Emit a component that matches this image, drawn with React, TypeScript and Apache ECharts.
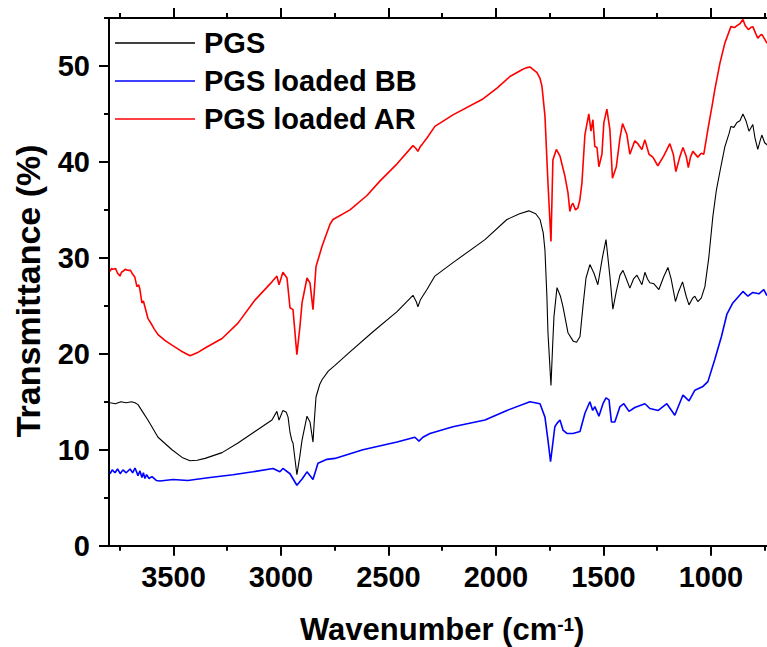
import React, { useEffect, useRef } from "react";
import * as echarts from "echarts";

const seriesNames = ["PGS", "PGS loaded BB", "PGS loaded AR"];
const xTickValues = [1000, 1500, 2000, 2500, 3000, 3500];
const xMinorTickValues = [750, 1250, 1750, 2250, 2750, 3250, 3750];
const yTickValues = [0, 10, 20, 30, 40, 50];
const yMinorTickValues = [5, 15, 25, 35, 45, 55];
const X_MIN = 700;
const X_MAX = 3800;
const Y_MIN = 0;
const Y_MAX = 55;

const pgsData = [
  [3795, 14.9], [3770, 14.8], [3745, 15.0], [3720, 14.9], [3695, 15.0], [3679, 14.9], [3665, 14.7], [3645, 14.0],
  [3619, 13.1], [3572, 11.3], [3507, 10.0], [3460, 9.2], [3423, 8.85], [3390, 8.9], [3353, 9.1], [3274, 9.7],
  [3200, 10.7], [3121, 11.9], [3042, 13.1], [3019, 14.0], [3009, 13.1], [2991, 14.1], [2975, 13.9], [2967, 13.4],
  [2958, 11.8], [2950, 11.0], [2944, 10.7], [2926, 7.4], [2913, 9.2], [2902, 11.0], [2879, 13.5], [2865, 12.9],
  [2851, 10.8], [2845, 13.0], [2837, 15.5], [2820, 16.8], [2809, 17.3], [2780, 18.2], [2749, 18.8], [2679, 20.2],
  [2572, 22.3], [2460, 24.4], [2386, 26.1], [2370, 25.4], [2363, 24.9], [2352, 25.6], [2344, 25.9], [2321, 26.7],
  [2284, 28.1], [2200, 29.5], [2051, 31.9], [1949, 34.0], [1890, 34.6], [1847, 34.9], [1815, 34.6], [1795, 34.0],
  [1780, 32.6], [1772, 30.8], [1763, 26.0], [1758, 22.2], [1744, 16.7], [1736, 21.0], [1730, 23.9], [1716, 26.9],
  [1700, 26.0], [1688, 24.9], [1665, 22.2], [1640, 21.3], [1625, 21.2], [1609, 21.8], [1595, 25.0], [1581, 27.9],
  [1563, 29.3], [1544, 28.4], [1526, 27.2], [1505, 30.0], [1488, 31.9], [1470, 28.1], [1456, 24.65], [1440, 26.5],
  [1423, 28.2], [1409, 28.7], [1395, 27.9], [1377, 26.85], [1360, 27.8], [1344, 28.2], [1330, 27.6], [1321, 27.2],
  [1307, 28.5], [1295, 27.8], [1284, 27.4], [1265, 27.3], [1242, 26.7], [1220, 28.0], [1200, 29.0], [1185, 27.8],
  [1165, 25.45], [1150, 26.5], [1132, 27.5], [1115, 26.0], [1102, 25.1], [1085, 25.8], [1075, 26.0], [1061, 25.45],
  [1045, 25.8], [1028, 27.0], [1010, 30.0], [991, 34.3], [975, 37.0], [958, 39.0], [935, 41.6], [915, 43.0],
  [907, 43.7], [893, 43.6], [879, 44.1], [865, 44.3], [851, 45.0], [837, 44.3], [823, 43.2], [805, 43.9],
  [795, 42.5], [782, 41.3], [770, 42.3], [763, 42.8], [750, 42.0], [740, 41.8], [730, 41.6]
];

const bbData = [
  [3795, 7.5], [3785, 7.9], [3772, 7.6], [3760, 8.0], [3748, 7.5], [3735, 7.9], [3720, 7.6], [3702, 8.0],
  [3690, 7.6], [3679, 8.1], [3665, 7.3], [3656, 7.8], [3647, 7.1], [3640, 7.6], [3633, 7.0], [3625, 7.4],
  [3614, 7.0], [3600, 7.2], [3580, 6.8], [3563, 6.75], [3502, 6.9], [3433, 6.8], [3400, 6.9], [3330, 7.1],
  [3223, 7.4], [3130, 7.7], [3037, 8.05], [3005, 7.7], [2991, 8.05], [2958, 7.5], [2926, 6.3], [2900, 7.0],
  [2879, 7.7], [2851, 6.9], [2828, 8.6], [2786, 9.0], [2749, 9.1], [2619, 10.0], [2460, 10.8], [2377, 11.3],
  [2358, 10.9], [2340, 11.3], [2307, 11.7], [2200, 12.4], [2051, 13.1], [1949, 14.1], [1842, 15.0], [1795, 14.8],
  [1772, 13.4], [1758, 11.0], [1746, 8.75], [1726, 12.4], [1716, 12.75], [1702, 13.1], [1688, 12.05], [1670, 11.7],
  [1642, 11.7], [1609, 11.9], [1586, 13.8], [1563, 15.0], [1550, 14.1], [1540, 14.5], [1521, 13.5], [1502, 14.8],
  [1488, 15.4], [1474, 15.2], [1463, 12.9], [1447, 12.9], [1423, 14.5], [1405, 14.8], [1381, 14.0], [1354, 14.4],
  [1307, 14.8], [1284, 14.3], [1245, 14.1], [1205, 14.8], [1168, 13.6], [1130, 15.7], [1102, 15.1], [1075, 16.2],
  [1037, 16.6], [1014, 17.1], [982, 19.4], [951, 21.8], [926, 24.1], [898, 25.3], [851, 26.5], [828, 26.0],
  [805, 26.4], [777, 26.25], [754, 26.7], [740, 26.1], [730, 26.2]
];

const arData = [
  [3795, 28.6], [3788, 28.9], [3781, 28.8], [3770, 28.9], [3760, 28.4], [3749, 28.1], [3742, 28.5], [3735, 28.6],
  [3725, 28.8], [3712, 28.7], [3700, 28.7], [3693, 28.4], [3680, 28.0], [3670, 27.0], [3662, 27.2], [3656, 26.7],
  [3647, 25.3], [3640, 25.5], [3633, 24.9], [3626, 24.3], [3619, 23.7], [3600, 23.0], [3590, 22.6], [3572, 22.0],
  [3540, 21.4], [3507, 20.9], [3465, 20.3], [3423, 19.8], [3390, 20.1], [3353, 20.6], [3274, 21.6], [3200, 23.2],
  [3121, 25.6], [3042, 27.5], [3019, 28.1], [3009, 27.2], [2991, 28.5], [2972, 27.9], [2958, 24.8], [2944, 24.6],
  [2926, 19.9], [2912, 22.8], [2902, 25.3], [2879, 27.9], [2865, 27.4], [2851, 24.6], [2837, 29.1], [2809, 31.2],
  [2772, 33.5], [2758, 34.0], [2679, 35.0], [2600, 36.5], [2540, 38.0], [2460, 39.8], [2386, 41.7], [2372, 41.4],
  [2363, 41.1], [2352, 41.6], [2344, 41.8], [2321, 42.5], [2284, 43.7], [2200, 44.9], [2065, 46.5], [1995, 47.7],
  [1935, 48.9], [1879, 49.6], [1860, 49.8], [1842, 49.9], [1825, 49.6], [1809, 49.3], [1795, 48.7], [1786, 47.9],
  [1772, 44.8], [1758, 37.8], [1744, 31.7], [1735, 40.2], [1719, 41.3], [1702, 40.6], [1690, 39.5], [1679, 38.5],
  [1665, 36.8], [1656, 34.85], [1648, 35.5], [1642, 35.7], [1630, 35.0], [1619, 35.2], [1610, 36.0], [1600, 37.8],
  [1586, 42.85], [1568, 45.0], [1558, 43.2], [1549, 44.4], [1540, 41.6], [1530, 41.5], [1521, 39.5], [1507, 40.8],
  [1498, 44.1], [1484, 45.5], [1470, 43.4], [1458, 38.3], [1440, 39.5], [1423, 42.5], [1411, 44.0], [1391, 42.85],
  [1377, 40.8], [1354, 42.2], [1340, 41.9], [1321, 41.3], [1307, 42.3], [1288, 40.8], [1270, 40.5], [1247, 39.6],
  [1220, 40.6], [1191, 41.9], [1175, 40.8], [1163, 39.0], [1145, 40.5], [1130, 41.5], [1115, 40.6], [1105, 39.4],
  [1095, 40.5], [1084, 41.1], [1061, 40.5], [1045, 40.9], [1033, 40.8], [1014, 43.4], [995, 45.8], [982, 47.5],
  [958, 50.3], [935, 52.4], [907, 54.1], [890, 54.0], [879, 54.2], [865, 54.4], [851, 54.85], [840, 54.2],
  [826, 53.8], [815, 54.0], [805, 54.1], [792, 53.4], [782, 52.9], [770, 53.2], [763, 53.3], [750, 52.8],
  [740, 52.4], [730, 52.5]
];

const FONT = "'Liberation Sans', Arial, Helvetica, sans-serif";

export default function App() {
  const ref = useRef<HTMLDivElement>(null);

  useEffect(() => {
    if (!ref.current) return;
    const chart = echarts.init(ref.current, null, { renderer: "svg" });
    const lineStyle = { color: "#000", width: 2 };
    const labelText = {
      color: "#000",
      fontFamily: FONT,
      fontWeight: "bold",
      fontSize: 29,
    };
    const baseX = {
      type: "value",
      min: X_MIN,
      max: X_MAX,
      inverse: true,
      splitLine: { show: false },
    };
    const baseY = {
      type: "value",
      min: Y_MIN,
      max: Y_MAX,
      splitLine: { show: false },
    };
    const ticks = (values: number[], length: number) => ({
      show: true,
      length,
      customValues: values,
      lineStyle: { color: "#000000", width: 2 },
    });
    const option: any = {
      animation: false,
      backgroundColor: "#ffffff",
      grid: {
        left: 109,
        right: -8.4,
        top: 18,
        bottom: 101.3,
        outerBoundsMode: "none",
      },
      legend: {
        orient: "vertical",
        left: 115,
        top: 28,
        padding: 0,
        icon: "rect",
        itemWidth: 80,
        itemHeight: 1.6,
        itemGap: 8,
        data: seriesNames,
        textStyle: { ...labelText, lineHeight: 30, padding: [0, 0, 0, 4] },
      },
      xAxis: [
        {
          ...baseX,
          position: "bottom",
          axisLine: { show: true, onZero: false, lineStyle },
          axisTick: ticks(xTickValues, 10),
          axisLabel: {
            show: true,
            customValues: xTickValues,
            margin: 17,
            formatter: (v: number) => String(v),
            ...labelText,
          },
          name: "Wavenumber (cm{sup|-1})",
          nameLocation: "middle",
          nameGap: 69,
          nameTextStyle: {
            ...labelText,
            fontSize: 31,
            lineHeight: 30,
            rich: {
              sup: {
                fontFamily: FONT,
                fontWeight: "bold",
                fontSize: 19,
                color: "#000",
                verticalAlign: "top",
                lineHeight: 18,
              },
            },
          },
        },
        {
          ...baseX,
          position: "bottom",
          axisLine: { show: false, onZero: false },
          axisTick: ticks(xMinorTickValues, 5),
          axisLabel: { show: false },
        },
        {
          ...baseX,
          position: "top",
          axisLine: { show: true, onZero: false, lineStyle },
          axisTick: ticks(xTickValues, 10),
          axisLabel: { show: false },
        },
        {
          ...baseX,
          position: "top",
          axisLine: { show: false, onZero: false },
          axisTick: ticks(xMinorTickValues, 5),
          axisLabel: { show: false },
        },
      ],
      yAxis: [
        {
          ...baseY,
          position: "left",
          axisLine: { show: true, onZero: false, lineStyle },
          axisTick: ticks(yTickValues, 10),
          axisLabel: {
            show: true,
            customValues: yTickValues,
            margin: 19,
            formatter: (v: number) => String(v),
            ...labelText,
          },
          name: "Transmittance (%)",
          nameLocation: "middle",
          nameGap: 64,
          nameTextStyle: { ...labelText, fontSize: 34, padding: [0, 18, 0, 0] },
        },
        {
          ...baseY,
          position: "left",
          axisLine: { show: false, onZero: false },
          axisTick: ticks(yMinorTickValues, 5),
          axisLabel: { show: false },
        },
      ],
      series: [
        {
          name: seriesNames[0],
          type: "line",
          data: pgsData,
          symbol: "none",
          showSymbol: false,
          color: "#000000",
          lineStyle: { color: "#000000", width: 1.1 },
          z: 2,
        },
        {
          name: seriesNames[1],
          type: "line",
          data: bbData,
          symbol: "none",
          showSymbol: false,
          color: "#0000ff",
          lineStyle: { color: "#0000ff", width: 1.6 },
          z: 3,
        },
        {
          name: seriesNames[2],
          type: "line",
          data: arData,
          symbol: "none",
          showSymbol: false,
          color: "#ff0000",
          lineStyle: { color: "#ff0000", width: 1.6 },
          z: 4,
        },
      ],
    };
    chart.setOption(option);
    return () => chart.dispose();
  }, []);

  return (
    <div
      ref={ref}
      style={{ position: "absolute", left: 0, top: 0, width: 767, height: 647, background: "#fff" }}
    />
  );
}
